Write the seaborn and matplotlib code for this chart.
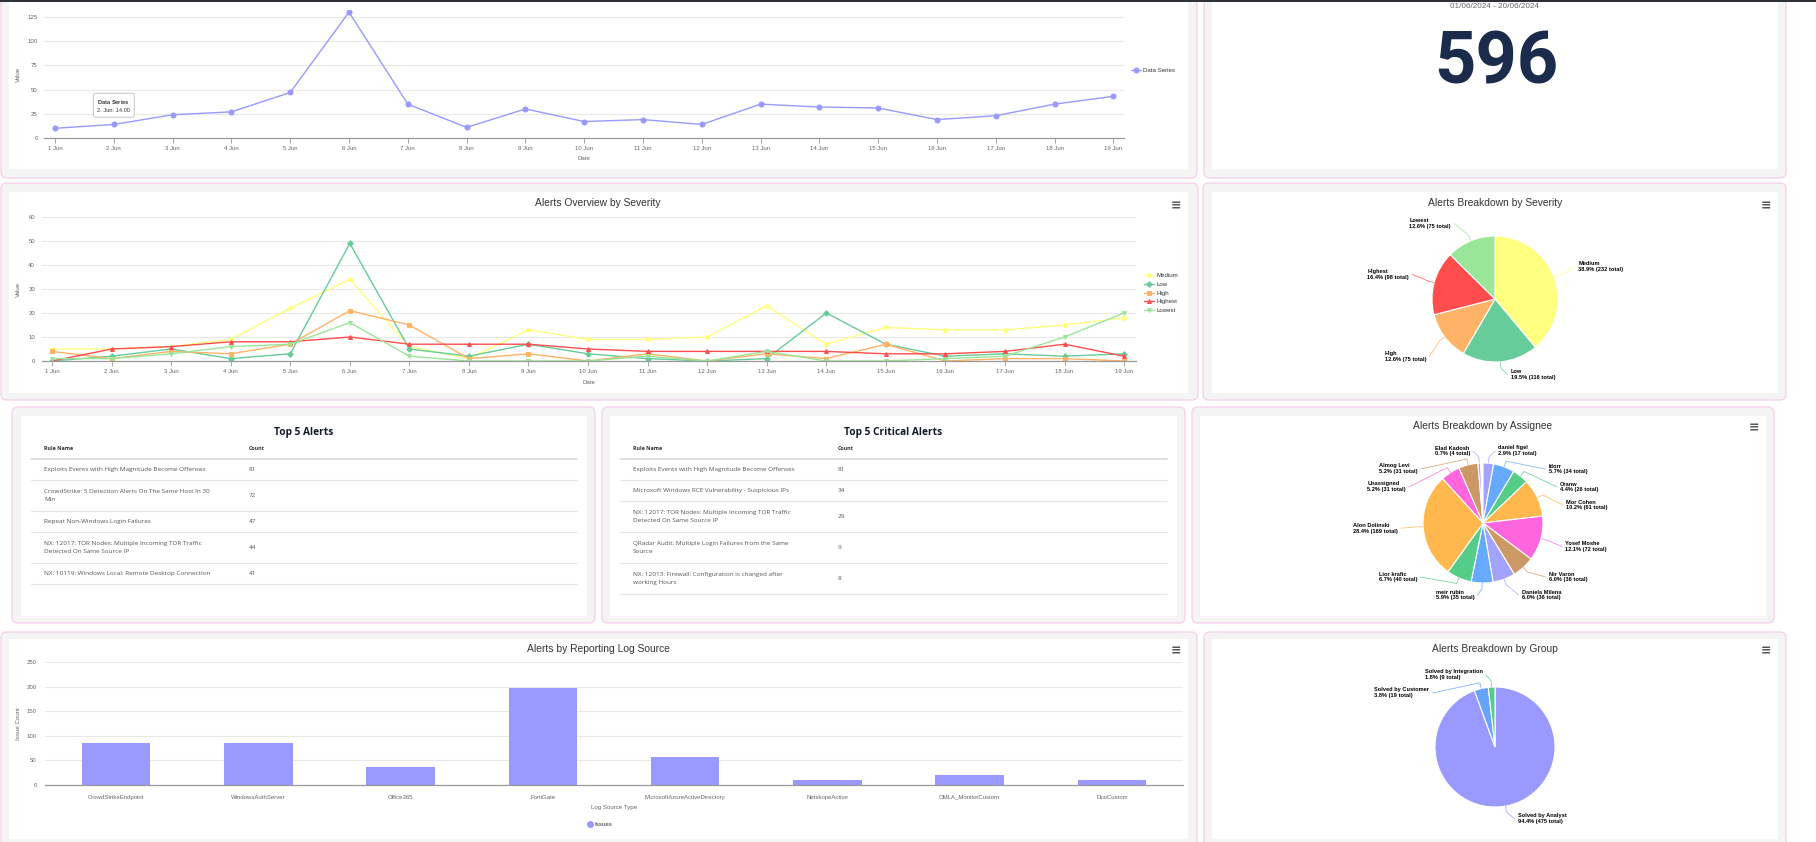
import textwrap
import numpy as np
import pandas as pd
import matplotlib
matplotlib.use("Agg")
import matplotlib.pyplot as plt
from matplotlib.patches import FancyBboxPatch, Rectangle
from matplotlib.lines import Line2D
import seaborn as sns

# ---------------- data ----------------
dates = ["1 Jun", "2 Jun", "3 Jun", "4 Jun", "5 Jun", "6 Jun", "7 Jun", "8 Jun", "9 Jun", "10 Jun",
         "11 Jun", "12 Jun", "13 Jun", "14 Jun", "15 Jun", "16 Jun", "17 Jun", "18 Jun", "19 Jun"]
daily_alerts = [10, 14, 24, 27, 47, 130, 35, 11, 30, 17, 19, 14, 35, 32, 31, 19, 23, 35, 43]
total_alerts = 596
date_range = "01/06/2024 - 20/06/2024"

severity_names = ["Medium", "Low", "High", "Highest", "Lowest"]
sev_medium = [5, 5, 6, 9, 22, 34, 6, 1, 13, 9, 9, 10, 23, 7, 14, 13, 13, 15, 18]
sev_low = [0, 2, 5, 1, 3, 49, 5, 2, 7, 3, 1, 0, 1, 20, 7, 2, 3, 2, 3]
sev_high = [4, 1, 4, 3, 7, 21, 15, 1, 3, 0, 3, 0, 3, 1, 7, 0, 1, 1, 0]
sev_highest = [0, 5, 6, 8, 8, 10, 7, 7, 7, 5, 4, 4, 4, 4, 3, 3, 4, 7, 2]
sev_lowest = [1, 1, 3, 6, 7, 16, 2, 0, 0, 0, 2, 0, 4, 0, 0, 1, 2, 10, 20]
severity_totals = [232, 116, 75, 98, 75]

top5_rules = ["Exploits Events with High Magnitude Become Offenses",
              "CrowdStrike: 5 Detection Alerts On The Same Host In 30 Min",
              "Repeat Non-Windows Login Failures",
              "NX: 12017: TOR Nodes: Multiple Incoming TOR Traffic Detected On Same Source IP",
              "NX: 10119: Windows Local: Remote Desktop Connection"]
top5_counts = [81, 72, 47, 44, 41]
crit_rules = ["Exploits Events with High Magnitude Become Offenses",
              "Microsoft Windows RCE Vulnerability - Suspicious IPs",
              "NX: 12017: TOR Nodes: Multiple Incoming TOR Traffic Detected On Same Source IP",
              "QRadar Audit: Multiple Login Failures from the Same Source",
              "NX: 12013: Firewall: Configuration is changed after working Hours"]
crit_counts = [81, 34, 29, 9, 8]

assignees = ["daniel figel", "Idorr", "Oranw", "Mor Cohen", "Yosef Moshe", "Nir Varon",
             "Daniela Milena", "meir rubin", "Lior krafic", "Alon Dolinski", "Unassigned",
             "Almog Levi", "Elad Kadosh"]
assignee_counts = [17, 34, 26, 61, 72, 36, 36, 35, 40, 169, 31, 31, 4]

log_sources = ["CrowdStrikeEndpoint", "WindowsAuthServer", "Office365", "FortiGate",
               "MicrosoftAzureActiveDirectory", "NetskopeActive", "OMLA_MonitorCustom", "DuoCustom"]
log_counts = [86, 85, 37, 197, 57, 11, 20, 10]

groups = ["Solved by Analyst", "Solved by Customer", "Solved by Integration"]
group_counts = [475, 19, 9]

# ---------------- style ----------------
SEV_COLORS = ["#ffff80", "#66cc99", "#ffb366", "#ff4d4d", "#99e699"]
SEV_MARKERS = ["o", "D", "s", "^", "v"]
PAL6 = ["#a3a3ff", "#66aaff", "#55cc88", "#ffb84d", "#ff66dd", "#cc9966"]
MAIN = "#9999ff"

sns.set_theme(style="white")
plt.rcParams["font.family"] = ["Liberation Sans", "DejaVu Sans"]
plt.rcParams["mathtext.fontset"] = "custom"
plt.rcParams["mathtext.bf"] = "Liberation Sans:bold"
plt.rcParams["mathtext.rm"] = "Liberation Sans"

W, H = 1816, 842
fig = plt.figure(figsize=(W / 100, H / 100), dpi=100)
fig.patch.set_facecolor("white")

bg = fig.add_axes([0, 0, 1, 1])
bg.set_xlim(0, W)
bg.set_ylim(H, 0)
bg.axis("off")


def ax_at(box):
    x0, y0, x1, y1 = box
    return fig.add_axes([x0 / W, 1 - y1 / H, (x1 - x0) / W, (y1 - y0) / H])


def panel(outer, inner):
    x0, y0, x1, y1 = outer
    bg.add_patch(FancyBboxPatch((x0, y0), x1 - x0, y1 - y0,
                                boxstyle="round,pad=0,rounding_size=6",
                                fc="#f4f4f4", ec="#f6d2ec", lw=1.0))
    x0, y0, x1, y1 = inner
    bg.add_patch(Rectangle((x0, y0), x1 - x0, y1 - y0, fc="white", ec="none"))


panel((1, -10, 1197, 178), (9, -5, 1188, 169))
panel((1204, -10, 1786, 178), (1212, -5, 1778, 169))
panel((1, 183, 1198, 400), (9, 192, 1188, 393))
panel((1203, 183, 1786, 400), (1212, 192, 1778, 393))
panel((12, 407, 595, 623), (21, 416, 587, 616))
panel((602, 407, 1185, 623), (610, 416, 1177, 616))
panel((1192, 407, 1774, 623), (1200, 416, 1766, 616))
panel((1, 632, 1197, 852), (9, 639, 1188, 839))
panel((1204, 632, 1786, 852), (1212, 639, 1778, 839))
bg.add_patch(Rectangle((0, 0), W, 2, fc="#2e3238", ec="none"))


def title(x, y, s):
    bg.text(x, y, s, ha="center", va="center", fontsize=7.4, color="#333333")


def menu(x, y):
    bg.text(x, y, "\u2261", ha="center", va="center", fontsize=9, color="#555555",
            family="DejaVu Sans", fontweight="bold")


def style_axes(ax, box, yticks, xtick_len=3.5, xpad=2.5, ypad=4.5):
    ax.set_facecolor("none")
    for s in ["top", "right", "left"]:
        ax.spines[s].set_visible(False)
    ax.spines["bottom"].set_color("#999999")
    ax.spines["bottom"].set_linewidth(0.9)
    ax.set_yticks(yticks)
    ax.grid(axis="y", color="#e9e9e9", lw=0.8)
    ax.grid(axis="x", visible=False)
    ax.tick_params(axis="y", length=0, labelsize=4.3, labelcolor="#666666", pad=ypad)
    ax.tick_params(axis="x", length=xtick_len, width=0.6, color="#999999", labelsize=4.3,
                   labelcolor="#666666", pad=xpad, direction="out", bottom=True)


def place_labels(ax, box, xl, xl_y, yl, yl_x):
    x0, y0, x1, y1 = box
    ax.set_xlabel(xl, fontsize=4.4, color="#666666")
    ax.xaxis.set_label_coords(0.5, (y1 - xl_y) / (y1 - y0))
    ax.xaxis.label.set_va("center")
    ax.set_ylabel(yl, fontsize=4.4, color="#666666")
    ax.yaxis.set_label_coords((yl_x - x0) / (x1 - x0), 0.5)
    ax.yaxis.label.set_va("center")


# ---------------- chart 1: daily alerts ----------------
box1 = (44, 10, 1124, 138)
ax1 = ax_at(box1)
df1 = pd.DataFrame({"day": np.arange(len(dates)), "value": daily_alerts})
sns.lineplot(data=df1, x="day", y="value", ax=ax1, color=MAIN, marker="o", markersize=3.6,
             markeredgecolor=MAIN, linewidth=1.0, label="Data Series")
ax1.set_xlim(-0.187, 18.18)
ax1.set_ylim(0, 132.2)
ax1.set_xticks(range(len(dates)))
ax1.set_xticklabels(dates)
style_axes(ax1, box1, [0, 25, 50, 75, 100, 125])
place_labels(ax1, box1, "Date", 159, "Value", 18)
ax1.legend(loc="center left", bbox_to_anchor=(1131 / W, 1 - 70 / H), bbox_transform=fig.transFigure,
           frameon=False, fontsize=4.4, handlelength=1.6, handletextpad=0.4, borderpad=0,
           borderaxespad=0, labelcolor="#333333")
tip = r"$\mathbf{Data\ Series}$" + "\n" + f"{dates[1].split()[0]}. Jun: {daily_alerts[1]:.2f}"
ax1.annotate(tip, xy=(1, daily_alerts[1]), xytext=(0, 13.5), textcoords="offset points",
             ha="center", va="center", fontsize=4.1, color="#333333", linespacing=1.5,
             bbox=dict(boxstyle="round,pad=0.7,rounding_size=0.4", fc="white", ec="#bbbbbb", lw=0.6))

# ---------------- big number ----------------
bg.text(1495, 7, date_range, ha="center", va="center", fontsize=5.9, color="#666666")
bg.text(1496, 83, str(total_alerts), ha="center", va="baseline", fontsize=52, fontweight="bold",
        family="Roboto", color="#1b2b4b")

# ---------------- chart 2: severity lines ----------------
title(598, 203, "Alerts Overview by Severity")
menu(1176, 206)
box2 = (42, 217, 1136, 361)
ax2 = ax_at(box2)
sev_series = [sev_medium, sev_low, sev_high, sev_highest, sev_lowest]
for name, vals, c, m in zip(severity_names, sev_series, SEV_COLORS, SEV_MARKERS):
    d = pd.DataFrame({"day": np.arange(len(dates)), "value": vals})
    sns.lineplot(data=d, x="day", y="value", ax=ax2, color=c, marker=m, markersize=2.8,
                 markeredgecolor=c, linewidth=1.0, label=name)
ax2.set_xlim(-0.168, 18.2)
ax2.set_ylim(0, 60)
ax2.set_xticks(range(len(dates)))
ax2.set_xticklabels(dates)
style_axes(ax2, box2, [0, 10, 20, 30, 40, 50, 60], ypad=5)
place_labels(ax2, box2, "Date", 382, "Value", 18)
ax2.legend(loc="center left", bbox_to_anchor=(1144 / W, 1 - 293 / H), bbox_transform=fig.transFigure,
           frameon=False, fontsize=4.4, handlelength=1.6, handletextpad=0.4, borderpad=0,
           borderaxespad=0, labelspacing=0.55, labelcolor="#333333")


# ---------------- pies ----------------
def pie_with_labels(ax, values, names, colors, total, lim=1.2, gap=0.3, fs=4.1):
    fr = [v / total for v in values]
    wedges, _ = ax.pie(fr, colors=colors, startangle=90, counterclock=False, normalize=False,
                       wedgeprops=dict(edgecolor="white", linewidth=0.8))
    items = []
    for w, n, v, c in zip(wedges, names, values, colors):
        th = np.deg2rad((w.theta1 + w.theta2) / 2)
        nx, ny = 1.5 * np.cos(th), 1.5 * np.sin(th)
        items.append(dict(th=th, nx=nx, ny=ny, y=ny, side=1 if nx >= 0 else -1,
                          text=f"{n}\n{v / total * 100:.1f}% ({v} total)", color=c))
    for side in (1, -1):
        grp = sorted([it for it in items if it["side"] == side], key=lambda d: -d["ny"])
        prev = None
        for it in grp:
            y = min(it["ny"], lim)
            if prev is not None:
                y = min(y, prev - gap)
            it["y"] = y
            prev = y
        nxt = None
        for it in reversed(grp):
            y = max(it["y"], -lim)
            if nxt is not None:
                y = max(y, nxt + gap)
            it["y"] = y
            nxt = y
    for it in items:
        s, y = it["side"], it["y"]
        if abs(abs(y) - lim) < 1e-6:
            x = it["nx"] + s * 0.1
        else:
            x = s * np.sqrt(max(1.4 ** 2 - y ** 2, 0.0))
        ex, ey = np.cos(it["th"]), np.sin(it["th"])
        ax.plot([ex, 1.1 * ex, x - s * 0.03], [ey, 1.1 * ey, y], color=it["color"], lw=0.6,
                alpha=0.8, clip_on=False)
        ax.text(x + s * 0.02, y, it["text"], ha="left" if s > 0 else "right", va="center",
                multialignment="left", fontsize=fs, fontweight="bold", color="black",
                linespacing=1.25)


def pie_axes(cx, cy, r, w=400, h=180):
    ax = ax_at((cx - w / 2, cy - h / 2, cx + w / 2, cy + h / 2))
    return ax, (w / 2 / r, h / 2 / r)


title(1495, 203, "Alerts Breakdown by Severity")
menu(1766, 206)
axp1, (hx, hy) = pie_axes(1495, 299, 63)
pie_with_labels(axp1, severity_totals, severity_names, SEV_COLORS, sum(severity_totals))
axp1.set_xlim(-hx, hx)
axp1.set_ylim(-hy, hy)

title(1483, 426, "Alerts Breakdown by Assignee")
menu(1754, 428)
axp2, (hx, hy) = pie_axes(1483, 523, 60)
a_colors = [PAL6[i % 6] for i in range(len(assignees))]
pie_with_labels(axp2, assignee_counts, assignees, a_colors, total_alerts)
axp2.set_xlim(-hx, hx)
axp2.set_ylim(-hy, hy)

title(1495, 649, "Alerts Breakdown by Group")
menu(1766, 651)
axp3, (hx, hy) = pie_axes(1495, 747, 60)
pie_with_labels(axp3, group_counts, groups, ["#9999ff", "#66a3ff", "#55cc88"], sum(group_counts))
axp3.set_xlim(-hx, hx)
axp3.set_ylim(-hy, hy)


# ---------------- tables ----------------
def table(tx, cx, lx0, lx1, title_x, ttl, rules, counts):
    bg.text(title_x, 433, ttl, ha="center", va="center", fontsize=7.3, fontweight="bold",
            family="Open Sans", color="#111827")
    bg.text(tx, 448, "Rule Name", ha="left", va="center", fontsize=3.9, fontweight="bold",
            family="Open Sans", color="#333333")
    bg.text(cx, 448, "Count", ha="left", va="center", fontsize=3.9, fontweight="bold",
            family="Open Sans", color="#333333")
    bg.plot([lx0, lx1], [459, 459], color="#d9d9de", lw=1.2)
    y = 459
    for rule, cnt in zip(rules, counts):
        lines = textwrap.wrap(rule, 54)
        h = 21 if len(lines) == 1 else 31
        yc = y + h / 2
        bg.text(tx, yc, "\n".join(lines), ha="left", va="center", fontsize=4.6,
                family="Open Sans", color="#555555", linespacing=1.55)
        bg.text(cx, yc, str(cnt), ha="left", va="center", fontsize=4.6,
                family="Open Sans", color="#555555")
        y += h
        bg.plot([lx0, lx1], [y, y], color="#e6e6ea", lw=0.8)


table(44, 249, 31, 577, 304, "Top 5 Alerts", top5_rules, top5_counts)
table(633, 838, 620, 1167, 893, "Top 5 Critical Alerts", crit_rules, crit_counts)

# ---------------- bar chart ----------------
title(598, 649, "Alerts by Reporting Log Source")
menu(1176, 651)
box3 = (45, 662, 1183, 785)
ax3 = ax_at(box3)
sns.barplot(x=log_sources, y=log_counts, ax=ax3, color=MAIN, saturation=1, width=0.48, linewidth=0)
ax3.set_xlim(-0.5, len(log_sources) - 0.5)
ax3.set_ylim(0, 250)
style_axes(ax3, box3, [0, 50, 100, 150, 200, 250], xtick_len=0, xpad=7, ypad=6)
place_labels(ax3, box3, "Log Source Type", 807, "Issue Count", 18)
ax3.legend(handles=[Line2D([], [], marker="o", ls="", color=MAIN, markersize=4)], labels=["Issues"],
           loc="center", bbox_to_anchor=(600 / W, 1 - 824 / H), bbox_transform=fig.transFigure,
           frameon=False, fontsize=4.4, handlelength=0.8, handletextpad=0.4, borderpad=0,
           borderaxespad=0, labelcolor="#333333")

fig.savefig("out.png", dpi=100, facecolor="white")
